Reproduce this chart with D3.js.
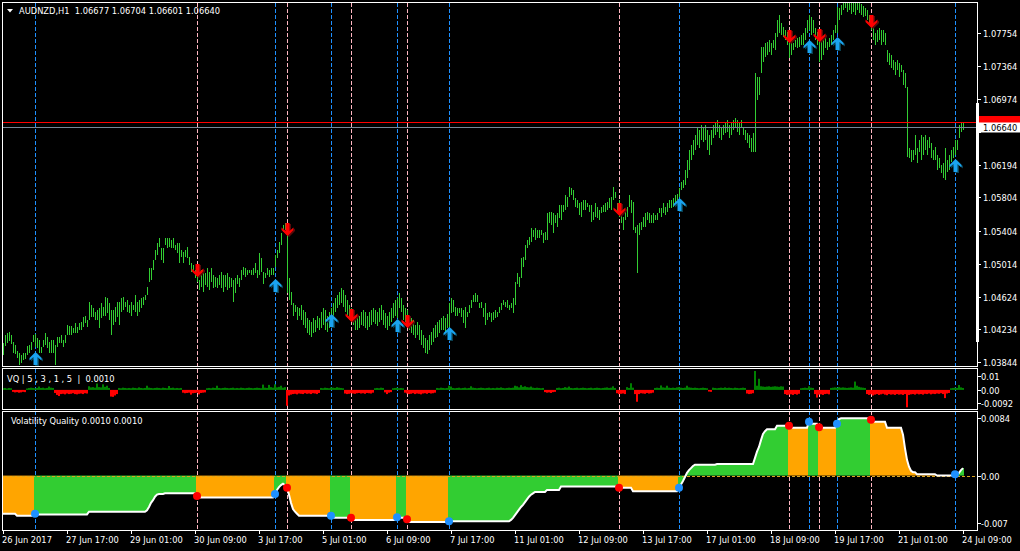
<!DOCTYPE html>
<html><head><meta charset="utf-8">
<script src="https://d3js.org/d3.v7.min.js"></script>
<style>
html,body{margin:0;padding:0;background:#000;}
svg{display:block;}
text{font-family:"DejaVu Sans",sans-serif;font-size:8.3px;fill:#fff;white-space:pre;}
</style></head><body>
<svg id="c" width="1020" height="551"></svg>
<script>
// ---------------- DATA ----------------
const chartTitle = "AUDNZD,H1  1.06677 1.06704 1.06601 1.06640";
const histTitle = "VQ | 5 , 3 , 1 , 5  |  0.0010";
const lineTitle = "Volatility Quality 0.0010 0.0010";
const firstBarTime = "2017-06-26 09:00";

const barHigh = [
1.0407,1.0417,1.0419,1.0420,1.0417,1.0408,1.0405,1.0398,1.0395,1.0393,1.0396,1.0395,1.0404,1.0405,1.0408,
1.0417,1.0418,1.0413,1.0411,1.0402,1.0411,1.0419,1.0414,1.0408,1.0411,1.0411,1.0405,1.0414,1.0415,1.0417,1.0411,1.0417,1.0429,1.0427,1.0427,1.0425,1.0431,1.0426,1.0431,
1.0432,1.0438,1.0440,1.0435,1.0456,1.0452,1.0449,1.0444,1.0446,1.0449,1.0455,1.0450,1.0462,1.0461,1.0455,1.0446,1.0446,1.0450,1.0456,1.0456,1.0461,1.0462,1.0456,1.0458,
1.0452,1.0456,1.0452,1.0464,1.0456,1.0458,1.0461,1.0462,1.0464,1.0474,1.0496,1.0496,1.0506,1.0518,1.0526,1.0532,1.0520,1.0520,1.0532,1.0532,1.0532,1.0530,1.0532,1.0524,
1.0526,1.0526,1.0518,1.0515,1.0518,1.0521,1.0509,1.0503,1.0500,1.0494,1.0496,1.0482,1.0494,1.0490,1.0490,1.0496,1.0492,1.0496,1.0488,1.0486,1.0484,1.0488,1.0492,1.0488,
1.0488,1.0490,1.0486,1.0484,1.0482,1.0484,1.0488,1.0484,1.0494,1.0498,1.0496,1.0494,1.0494,1.0494,1.0496,1.0503,1.0494,1.0514,1.0508,1.0492,1.0490,1.0496,1.0494,1.0496,
1.0496,1.0512,1.0518,1.0527,1.0538,1.0548,1.0550,1.0539,1.0484,1.0468,1.0455,1.0452,1.0450,1.0449,1.0452,1.0446,1.0444,1.0437,1.0435,1.0432,1.0437,1.0435,1.0440,1.0437,
1.0444,1.0449,1.0446,1.0440,1.0444,1.0449,1.0455,1.0461,1.0464,1.0468,1.0473,1.0470,1.0464,1.0458,1.0452,1.0449,1.0444,1.0440,1.0437,1.0440,1.0444,1.0446,1.0444,1.0440,
1.0444,1.0446,1.0449,1.0446,1.0444,1.0449,1.0452,1.0446,1.0443,1.0440,1.0444,1.0449,1.0455,1.0458,1.0461,1.0467,1.0461,1.0452,1.0449,1.0446,1.0440,1.0437,1.0435,1.0429,
1.0432,1.0429,1.0423,1.0417,1.0413,1.0411,1.0417,1.0420,1.0425,1.0429,1.0432,1.0435,1.0437,1.0439,1.0437,1.0442,1.0455,1.0461,1.0458,1.0450,1.0449,1.0449,1.0449,1.0446,
1.0450,1.0444,1.0452,1.0458,1.0464,1.0467,1.0464,1.0455,1.0456,1.0449,1.0455,1.0443,1.0444,1.0443,1.0444,1.0446,1.0444,1.0450,1.0455,1.0458,1.0456,1.0458,1.0452,1.0455,
1.0461,1.0480,1.0490,1.0486,1.0508,1.0509,1.0524,1.0530,1.0533,1.0544,1.0542,1.0544,1.0542,1.0542,1.0542,1.0538,1.0539,1.0562,1.0563,1.0563,1.0562,1.0559,1.0562,1.0571,
1.0571,1.0571,1.0583,1.0581,1.0593,1.0592,1.0589,1.0580,1.0577,1.0574,1.0575,1.0577,1.0577,1.0574,1.0571,1.0571,1.0563,1.0574,1.0569,1.0565,1.0569,1.0571,1.0574,1.0575,
1.0580,1.0581,1.0593,1.0587,1.0574,1.0577,1.0565,1.0557,1.0565,1.0569,1.0583,1.0577,1.0575,1.0545,1.0548,1.0550,1.0551,1.0557,1.0562,1.0563,1.0562,1.0559,1.0562,1.0559,
1.0562,1.0568,1.0568,1.0574,1.0569,1.0574,1.0577,1.0577,1.0580,1.0583,1.0585,1.0592,1.0599,1.0601,1.0613,1.0625,1.0637,1.0643,1.0649,1.0654,1.0663,1.0660,1.0666,1.0664,
1.0666,1.0660,1.0654,1.0660,1.0666,1.0670,1.0672,1.0666,1.0663,1.0666,1.0670,1.0672,1.0666,1.0670,1.0672,1.0675,1.0672,1.0670,1.0672,1.0663,1.0660,1.0657,1.0654,1.0651,
1.0657,1.0728,1.0723,1.0723,1.0759,1.0759,1.0764,1.0765,1.0767,1.0764,1.0767,1.0776,1.0791,1.0797,1.0788,1.0783,1.0779,1.0777,1.0771,1.0767,1.0764,1.0767,1.0770,1.0771,
1.0773,1.0776,1.0782,1.0791,1.0797,1.0795,1.0791,1.0782,1.0777,1.0770,1.0773,1.0767,1.0771,1.0765,1.0770,1.0773,1.0779,1.0785,1.0807,1.0805,1.0809,1.0811,1.0815,1.0813,
1.0814,1.0811,1.0815,1.0813,1.0816,1.0811,1.0810,1.0808,1.0805,1.0803,1.0797,1.0791,1.0785,1.0776,1.0779,1.0782,1.0779,1.0779,1.0776,1.0756,1.0752,1.0750,1.0744,1.0741,
1.0744,1.0740,1.0738,1.0732,1.0728,1.0712,1.0639,1.0637,1.0637,1.0654,1.0639,1.0649,1.0654,1.0652,1.0654,1.0649,1.0652,1.0645,1.0637,1.0640,1.0631,1.0627,1.0619,1.0621,
1.0639,1.0625,1.0631,1.0637,1.0640,1.0649,1.0649,1.0666,1.0669,1.06704
];
const barLow = [
1.0393,1.0404,1.0407,1.0410,1.0406,1.0396,1.0394,1.0389,1.0381,1.0383,1.0387,1.0388,1.0393,1.0395,1.0399,
1.0408,1.0402,1.0401,1.0396,1.0395,1.0402,1.0405,1.0401,1.0396,1.0396,1.0395,1.0381,1.0402,1.0407,1.0407,1.0402,1.0407,1.0417,1.0417,1.0417,1.0419,1.0419,1.0419,1.0423,
1.0423,1.0426,1.0431,1.0426,1.0435,1.0438,1.0438,1.0435,1.0435,1.0425,1.0437,1.0440,1.0440,1.0443,1.0435,1.0417,1.0429,1.0432,1.0438,1.0429,1.0444,1.0446,1.0450,1.0444,
1.0443,1.0440,1.0446,1.0444,1.0440,1.0444,1.0449,1.0452,1.0458,1.0464,1.0480,1.0482,1.0494,1.0506,1.0512,1.0521,1.0506,1.0502,1.0524,1.0520,1.0521,1.0520,1.0520,1.0518,
1.0514,1.0503,1.0509,1.0502,1.0509,1.0508,1.0500,1.0492,1.0494,1.0484,1.0480,1.0470,1.0474,1.0468,1.0476,1.0474,1.0470,1.0480,1.0473,1.0474,1.0473,1.0476,1.0473,1.0468,
1.0474,1.0470,1.0473,1.0474,1.0456,1.0467,1.0478,1.0474,1.0482,1.0488,1.0486,1.0488,1.0490,1.0488,1.0488,1.0490,1.0484,1.0488,1.0492,1.0478,1.0484,1.0488,1.0486,1.0488,
1.0488,1.0498,1.0508,1.0514,1.0524,1.0539,1.0542,1.0467,1.0458,1.0452,1.0440,1.0444,1.0435,1.0440,1.0435,1.0429,1.0425,1.0419,1.0417,1.0414,1.0419,1.0420,1.0425,1.0423,
1.0425,1.0429,1.0423,1.0420,1.0425,1.0432,1.0437,1.0444,1.0449,1.0452,1.0455,1.0450,1.0444,1.0437,1.0435,1.0437,1.0429,1.0423,1.0423,1.0425,1.0429,1.0427,1.0425,1.0423,
1.0426,1.0429,1.0432,1.0430,1.0427,1.0432,1.0435,1.0429,1.0425,1.0423,1.0427,1.0432,1.0437,1.0440,1.0437,1.0449,1.0444,1.0435,1.0432,1.0429,1.0423,1.0419,1.0417,1.0413,
1.0417,1.0411,1.0405,1.0401,1.0396,1.0394,1.0399,1.0405,1.0408,1.0413,1.0415,1.0419,1.0423,1.0423,1.0420,1.0425,1.0426,1.0443,1.0444,1.0440,1.0440,1.0443,1.0438,1.0431,
1.0425,1.0438,1.0443,1.0449,1.0456,1.0456,1.0456,1.0449,1.0449,1.0438,1.0429,1.0435,1.0438,1.0432,1.0435,1.0437,1.0438,1.0443,1.0446,1.0452,1.0450,1.0449,1.0446,1.0449,
1.0443,1.0452,1.0478,1.0474,1.0484,1.0498,1.0506,1.0520,1.0524,1.0527,1.0533,1.0530,1.0532,1.0532,1.0536,1.0526,1.0530,1.0530,1.0550,1.0548,1.0538,1.0550,1.0545,1.0556,
1.0553,1.0563,1.0565,1.0569,1.0581,1.0583,1.0577,1.0569,1.0568,1.0559,1.0557,1.0565,1.0565,1.0569,1.0563,1.0551,1.0553,1.0557,1.0556,1.0553,1.0562,1.0563,1.0563,1.0565,
1.0568,1.0565,1.0577,1.0580,1.0563,1.0557,1.0550,1.0542,1.0553,1.0557,1.0569,1.0562,1.0542,1.0538,1.0490,1.0536,1.0542,1.0545,1.0545,1.0553,1.0550,1.0550,1.0550,1.0553,
1.0553,1.0562,1.0557,1.0562,1.0559,1.0563,1.0568,1.0568,1.0569,1.0574,1.0577,1.0581,1.0589,1.0592,1.0595,1.0603,1.0613,1.0625,1.0631,1.0637,1.0643,1.0639,1.0649,1.0646,
1.0649,1.0637,1.0631,1.0643,1.0651,1.0654,1.0658,1.0651,1.0649,1.0654,1.0657,1.0658,1.0651,1.0654,1.0660,1.0663,1.0658,1.0654,1.0663,1.0654,1.0649,1.0645,1.0639,1.0634,
1.0634,1.0634,1.0696,1.0702,1.0728,1.0741,1.0747,1.0750,1.0753,1.0750,1.0758,1.0756,1.0771,1.0776,1.0773,1.0771,1.0767,1.0761,1.0746,1.0750,1.0756,1.0759,1.0758,1.0759,
1.0761,1.0761,1.0767,1.0776,1.0779,1.0773,1.0776,1.0767,1.0761,1.0741,1.0744,1.0750,1.0758,1.0756,1.0759,1.0761,1.0767,1.0776,1.0776,1.0791,1.0797,1.0803,1.0805,1.0801,
1.0803,1.0798,1.0801,1.0797,1.0803,1.0800,1.0797,1.0795,1.0796,1.0791,1.0785,1.0779,1.0767,1.0761,1.0765,1.0767,1.0761,1.0765,1.0761,1.0741,1.0738,1.0734,1.0732,1.0726,
1.0732,1.0723,1.0729,1.0714,1.0710,1.0628,1.0627,1.0622,1.0625,1.0631,1.0621,1.0634,1.0625,1.0631,1.0637,1.0631,1.0639,1.0627,1.0625,1.0625,1.0613,1.0615,1.0609,1.0603,
1.0601,1.0610,1.0613,1.0622,1.0627,1.0631,1.0637,1.0651,1.0658,1.06601
];
const vqHistogram = [
0.0012,0.0014,0.0010,0.0014,0.0012,
-0.0014,-0.0018,-0.0016,-0.0020,-0.0018,-0.0014,-0.0016,
0.0010,0.0014,0.0016,0.0014,0.0012,0.0014,0.0024,0.0014,0.0016,0.0012,0.0014,0.0024,0.0016,0.0014,
-0.0022,-0.0036,-0.0044,-0.0030,-0.0028,-0.0032,-0.0026,-0.0030,-0.0028,-0.0024,-0.0030,-0.0032,-0.0028,-0.0026,-0.0030,-0.0024,-0.0026,
0.0026,0.0018,0.0020,0.0016,0.0046,0.0020,0.0018,0.0040,0.0022,0.0030,0.0014,
-0.0048,-0.0050,-0.0040,-0.0030,
0.0014,0.0012,0.0016,0.0014,0.0012,0.0014,0.0012,0.0016,0.0014,0.0012,0.0018,0.0014,0.0012,0.0014,0.0030,0.0016,0.0014,0.0012,0.0014,0.0016,0.0014,0.0012,0.0016,0.0014,0.0012,0.0028,0.0014,0.0016,0.0012,0.0014,0.0012,0.0014,
-0.0020,-0.0024,-0.0022,-0.0020,-0.0034,-0.0024,-0.0022,-0.0020,-0.0032,-0.0022,-0.0020,-0.0018,
0.0012,0.0014,0.0012,0.0016,0.0014,0.0030,0.0014,0.0012,0.0014,0.0016,0.0014,0.0012,0.0014,0.0016,0.0012,0.0014,0.0012,0.0016,0.0014,0.0012,
0.0014,0.0016,0.0014,0.0012,0.0014,0.0016,0.0014,0.0012,0.0038,0.0016,0.0014,0.0036,0.0020,0.0016,0.0040,0.0018,0.0022,0.0030,0.0016,0.0020,
-0.0114,
-0.0040,-0.0034,-0.0030,-0.0028,-0.0032,-0.0026,-0.0028,-0.0030,-0.0024,-0.0028,-0.0026,-0.0030,-0.0024,-0.0026,-0.0030,-0.0022,
0.0014,0.0012,0.0016,0.0014,0.0012,0.0018,0.0016,0.0014,0.0020,0.0016,0.0014,0.0012,
-0.0026,-0.0030,-0.0028,-0.0024,-0.0026,-0.0028,-0.0024,-0.0022,-0.0026,-0.0024,-0.0028,-0.0022,-0.0024,-0.0026,-0.0020,
0.0012,0.0014,0.0012,0.0016,0.0014,
-0.0018,-0.0030,-0.0020,-0.0016,
0.0012,0.0014,0.0016,0.0012,0.0014,0.0012,
-0.0020,-0.0026,-0.0030,-0.0028,-0.0024,-0.0030,-0.0026,-0.0028,-0.0032,-0.0026,-0.0024,-0.0028,-0.0022,-0.0026,-0.0024,-0.0020,
0.0014,0.0012,0.0016,0.0014,0.0012,0.0014,0.0030,0.0024,0.0014,0.0012,0.0014,0.0016,0.0012,0.0014,0.0016,0.0012,0.0014,0.0026,0.0016,0.0014,
0.0012,0.0014,0.0016,0.0014,0.0012,0.0014,0.0016,0.0012,0.0014,0.0012,0.0016,0.0014,0.0018,0.0014,0.0012,0.0014,0.0016,0.0014,
0.0016,0.0030,0.0026,0.0018,0.0034,0.0022,0.0026,0.0020,0.0018,0.0024,0.0016,0.0014,0.0016,0.0014,0.0012,0.0014,
-0.0016,-0.0020,-0.0018,-0.0022,-0.0016,-0.0014,
0.0014,0.0016,0.0012,0.0014,0.0020,0.0016,0.0024,0.0014,0.0012,0.0014,0.0016,0.0012,0.0014,0.0016,0.0014,
0.0012,0.0014,0.0016,0.0012,0.0014,0.0016,0.0014,0.0012,0.0014,0.0016,0.0018,0.0014,0.0016,0.0026,0.0014,
-0.0024,-0.0030,-0.0028,-0.0026,-0.0030,
0.0020,0.0014,0.0048,0.0016,
-0.0030,-0.0085,-0.0030,-0.0024,-0.0026,-0.0028,-0.0022,-0.0026,-0.0024,-0.0020,
0.0014,0.0016,0.0014,0.0032,0.0018,0.0016,0.0030,0.0016,0.0014,0.0016,0.0014,0.0018,0.0020,0.0016,0.0014,0.0016,0.0030,0.0018,0.0016,0.0014,0.0016,0.0014,0.0012,
0.0014,0.0016,0.0014,0.0012,-0.0012,-0.0014,0.0016,0.0014,0.0012,0.0014,0.0016,0.0014,0.0018,0.0014,0.0016,0.0014,0.0012,0.0016,0.0014,0.0012,0.0014,0.0016,0.0014,
-0.0026,-0.0030,-0.0028,-0.0024,
0.0136,0.0030,0.0080,
0.0026,0.0024,0.0022,0.0024,0.0026,0.0022,0.0024,0.0026,0.0024,0.0022,0.0026,0.0024,
-0.0030,-0.0036,-0.0034,-0.0032,-0.0036,-0.0030,-0.0034,-0.0028,
0.0012,0.0014,0.0016,0.0014,0.0026,0.0016,0.0014,
-0.0030,-0.0055,-0.0034,-0.0032,-0.0036,-0.0030,-0.0028,-0.0032,
0.0014,0.0016,0.0018,0.0016,0.0020,0.0016,0.0018,0.0016,0.0014,0.0016,0.0018,0.0016,0.0060,0.0030,0.0022,0.0018,0.0016,0.0014,
-0.0030,-0.0036,-0.0032,-0.0040,-0.0034,-0.0030,-0.0036,-0.0032,-0.0028,-0.0034,-0.0038,-0.0030,-0.0034,-0.0032,-0.0036,-0.0030,-0.0034,-0.0032,-0.0036,-0.0030,
-0.0125,-0.0036,-0.0032,-0.0030,-0.0034,-0.0028,-0.0032,-0.0030,-0.0034,-0.0028,-0.0030,-0.0026,-0.0032,-0.0028,-0.0030,-0.0026,-0.0028,-0.0024,-0.0030,-0.0059,-0.0026,-0.0022,
0.0012,0.0014,0.0016,0.0014,0.0035,0.0018,0.0014
];
const vqLine = [
-0.0056,-0.0056,-0.0056,-0.0056,-0.0056,-0.0056,-0.0056,
-0.0059,-0.0059,-0.0059,-0.0059,-0.0059,-0.0059,-0.0059,-0.0059,-0.0059,
-0.0056,
-0.0057,-0.0057,-0.0057,-0.0057,-0.0057,-0.0057,-0.0057,-0.0057,-0.0057,-0.0057,-0.0057,-0.0057,-0.0057,-0.0057,-0.0057,-0.0057,-0.0057,-0.0057,-0.0057,-0.0057,-0.0057,-0.0057,-0.0057,-0.0057,-0.0057,-0.0057,
-0.0053,-0.0053,-0.0053,-0.0053,-0.0053,-0.0053,-0.0053,-0.0053,-0.0053,-0.0053,-0.0053,-0.0053,-0.0053,-0.0053,-0.0053,-0.0053,-0.0053,-0.0053,-0.0053,-0.0053,-0.0053,-0.0053,-0.0053,-0.0053,-0.0053,-0.0053,-0.0053,-0.0053,-0.0053,
-0.0051,-0.0046,-0.0040,-0.0036,-0.0031,-0.0028,-0.0027,-0.0027,-0.0027,-0.0026,
-0.0026,-0.0026,-0.0026,-0.0026,-0.0026,-0.0026,-0.0026,-0.0026,-0.0026,-0.0026,-0.0026,-0.0026,-0.0026,-0.0026,-0.0026,
-0.0030,
-0.0032,-0.0032,-0.0032,-0.0032,-0.0032,-0.0032,-0.0032,-0.0032,-0.0032,-0.0032,-0.0032,-0.0032,-0.0032,-0.0032,-0.0032,-0.0032,-0.0032,-0.0032,-0.0032,-0.0032,
-0.0032,-0.0032,-0.0032,-0.0032,-0.0032,-0.0032,-0.0032,-0.0032,-0.0032,-0.0032,-0.0032,-0.0032,-0.0032,-0.0032,-0.0032,-0.0032,-0.0032,-0.0032,
-0.0027,-0.0021,-0.0017,-0.0014,-0.0012,-0.0014,-0.0018,-0.0028,-0.0040,-0.0049,-0.0053,-0.0056,
-0.0059,-0.0059,-0.0059,-0.0059,-0.0059,-0.0059,-0.0059,-0.0059,-0.0059,-0.0059,-0.0059,-0.0059,-0.0059,-0.0059,-0.0059,-0.0059,-0.0059,
-0.0062,-0.0062,-0.0062,-0.0062,-0.0062,-0.0062,-0.0062,-0.0062,-0.0062,-0.0062,
-0.0065,-0.0065,-0.0065,-0.0065,-0.0065,-0.0065,-0.0065,-0.0065,-0.0065,-0.0065,-0.0065,-0.0065,-0.0065,-0.0065,-0.0065,-0.0065,-0.0065,-0.0065,-0.0065,-0.0065,-0.0065,-0.0065,
-0.0061,
-0.0062,-0.0062,-0.0062,-0.0062,
-0.0064,
-0.0068,-0.0068,-0.0068,-0.0068,-0.0068,-0.0068,-0.0068,-0.0068,-0.0068,-0.0068,-0.0068,-0.0068,-0.0068,-0.0068,-0.0068,-0.0068,-0.0068,-0.0068,-0.0068,-0.0068,
-0.0067,-0.0067,-0.0067,-0.0067,-0.0067,-0.0067,-0.0067,-0.0067,-0.0067,-0.0067,-0.0067,-0.0067,-0.0067,-0.0067,-0.0067,-0.0067,-0.0067,-0.0067,-0.0067,-0.0067,
-0.0067,-0.0067,-0.0067,-0.0067,-0.0067,-0.0067,-0.0067,-0.0067,-0.0067,-0.0067,-0.0067,
-0.0065,-0.0062,-0.0058,-0.0054,-0.0050,-0.0046,-0.0043,-0.0039,-0.0035,-0.0031,-0.0028,-0.0026,
-0.0024,-0.0024,-0.0024,-0.0024,-0.0024,-0.0024,
-0.0021,-0.0021,-0.0021,-0.0021,-0.0021,-0.0021,-0.0021,
-0.0016,-0.0016,-0.0016,-0.0016,-0.0016,-0.0016,-0.0016,-0.0016,-0.0016,-0.0016,-0.0016,-0.0016,-0.0016,-0.0016,-0.0016,
-0.0016,-0.0016,-0.0016,-0.0016,-0.0016,-0.0016,-0.0016,-0.0016,-0.0016,-0.0016,-0.0016,-0.0016,-0.0016,-0.0016,
-0.0018,-0.0018,-0.0018,-0.0018,-0.0018,-0.0018,-0.0018,
-0.0023,-0.0023,-0.0023,-0.0023,-0.0023,-0.0023,-0.0023,-0.0023,-0.0023,-0.0023,-0.0023,-0.0023,-0.0023,-0.0023,-0.0023,-0.0023,-0.0023,-0.0023,-0.0023,-0.0023,-0.0023,-0.0023,-0.0023,
-0.0018,-0.0013,-0.0008,-0.0002,0.0004,0.0008,0.0011,0.0014,0.0016,
0.0016,0.0016,0.0016,0.0016,0.0016,0.0016,0.0016,0.0016,0.0016,0.0016,
0.0017,0.0017,0.0017,0.0017,0.0017,0.0017,0.0017,0.0017,0.0017,0.0017,0.0017,0.0017,0.0017,0.0017,0.0017,0.0017,0.0017,0.0017,0.0017,
0.0026,0.0035,0.0042,0.0052,0.0061,0.0065,
0.0068,0.0068,0.0068,0.0068,0.0068,
0.0073,0.0073,0.0073,0.0073,0.0073,0.0073,0.0073,
0.0070,0.0070,0.0070,0.0070,0.0070,0.0070,0.0070,0.0070,0.0070,
0.0079,
0.0076,0.0076,0.0076,0.0076,
0.0071,
0.0070,0.0070,0.0070,0.0070,0.0070,0.0070,0.0070,0.0070,
0.0076,
0.0083,
0.0084,0.0084,0.0084,0.0084,0.0084,0.0084,0.0084,0.0084,0.0084,0.0084,0.0084,0.0084,0.0084,0.0084,0.0084,
0.0082,
0.0079,0.0079,0.0079,0.0079,0.0079,0.0079,0.0079,
0.0070,0.0070,0.0070,0.0070,0.0070,0.0070,0.0070,0.0070,
0.0060,0.0040,0.0023,0.0013,0.0007,0.0005,0.0005,
0.0002,0.0002,0.0002,0.0002,0.0002,0.0002,0.0002,0.0002,0.0002,0.0002,
0.0000,0.0000,0.0000,0.0000,0.0000,0.0000,0.0000,0.0000,0.0000,
0.0002,0.0001,0.0004,0.0008,0.0011
];
const upSignalTimes = ["2017-06-27 01:00","2017-07-04 01:00","2017-07-05 05:00","2017-07-06 14:00","2017-07-07 16:00","2017-07-14 11:00","2017-07-19 04:00","2017-07-19 18:00","2017-07-24 05:00"];
const upArrowPrices = [1.03965,1.04833,1.04417,1.04357,1.04262,1.05796,1.07674,1.07710,1.06259];
const downSignalTimes = ["2017-06-30 10:00","2017-07-04 07:00","2017-07-05 15:00","2017-07-06 19:00","2017-07-13 05:00","2017-07-18 18:00","2017-07-19 09:00","2017-07-20 11:00"];
const downArrowPrices = [1.04856,1.05344,1.04321,1.04250,1.05582,1.07639,1.07651,1.07817];
const priceTicks = [1.07754,1.07364,1.06974,1.06584,1.06194,1.05804,1.05404,1.05014,1.04624,1.04234,1.03844];
const histTicks = [0.01,0.00,-0.0092];
const histTickLabels = ["0.01","0.00","-0.0092"];
const lineTicks = [0.0084,0.00,-0.007];
const lineTickLabels = ["0.0084","0.00","-0.007"];
const timeTickTimes = ["2017-06-26 09:00","2017-06-27 17:00","2017-06-29 01:00","2017-06-30 09:00","2017-07-03 17:00","2017-07-05 01:00","2017-07-06 09:00","2017-07-07 17:00","2017-07-11 01:00","2017-07-12 09:00","2017-07-13 17:00","2017-07-17 01:00","2017-07-18 09:00","2017-07-19 17:00","2017-07-21 01:00","2017-07-24 09:00"];
const timeTickLabels = ["26 Jun 2017","27 Jun 17:00","29 Jun 01:00","30 Jun 09:00","3 Jul 17:00","5 Jul 01:00","6 Jul 09:00","7 Jul 17:00","11 Jul 01:00","12 Jul 09:00","13 Jul 17:00","17 Jul 01:00","18 Jul 09:00","19 Jul 17:00","21 Jul 01:00","24 Jul 09:00"];
const bidPrice = 1.06640;
const askPrice = 1.06696;

// ---------------- BUILD ----------------
const N = barHigh.length;

// bar times (H1, skipping weekends)
const pad = n => String(n).padStart(2,"0");
const fmt = d => `${d.getUTCFullYear()}-${pad(d.getUTCMonth()+1)}-${pad(d.getUTCDate())} ${pad(d.getUTCHours())}:00`;
const times = [];
{
  const [dp, tp] = firstBarTime.split(" ");
  const [Y,M,D] = dp.split("-").map(Number);
  let t = Date.UTC(Y, M-1, D, +tp.split(":")[0]);
  while (times.length < N) {
    const d = new Date(t);
    const wd = d.getUTCDay();
    if (wd !== 0 && wd !== 6) times.push(fmt(d));
    t += 3600e3;
  }
}
const idxOf = s => times.indexOf(s);

// layout
const L = 2, R = 977;
const main = {top: 2, bottom: 366};
const hp = {top: 368, bottom: 409};
const lp = {top: 411, bottom: 530};

const x = d3.scaleLinear().domain([0, N - 1]).range([3, 3 + 2 * (N - 1)]);
const yMain = d3.scaleLinear().domain([1.03800, 1.08126]).range([main.bottom, main.top]);
const yHist = d3.scaleLinear().domain([-0.01374, 0.01576]).range([hp.bottom, hp.top]);
const yLine = d3.scaleLinear().domain([-0.00798, 0.00947]).range([lp.bottom, lp.top]);

const svg = d3.select("#c");
svg.append("rect").attr("width",1020).attr("height",551).attr("fill","#000");

const defs = svg.append("defs");
function clip(id, p) {
  defs.append("clipPath").attr("id", id).append("rect")
    .attr("x", L + 1).attr("y", p.top + 1).attr("width", R - L - 1).attr("height", p.bottom - p.top - 1);
}
clip("cm", main); clip("ch", hp); clip("cl", lp);

// signal state per bar
const upIdx = upSignalTimes.map(idxOf);
const dnIdx = downSignalTimes.map(idxOf);
const state = [];
{
  let s = -1;
  for (let i = 0; i < N; i++) {
    if (upIdx.includes(i)) s = 1;
    if (dnIdx.includes(i)) s = -1;
    state.push(s);
  }
}

// vertical dashed signal lines
const vg = svg.append("g");
upIdx.forEach(i => vg.append("line").attr("x1", x(i)+0.5).attr("x2", x(i)+0.5).attr("y1", 3).attr("y2", 530)
  .attr("stroke", "#1E90FF").attr("stroke-width", 1).attr("stroke-dasharray", "4,2"));
dnIdx.forEach(i => vg.append("line").attr("x1", x(i)+0.5).attr("x2", x(i)+0.5).attr("y1", 3).attr("y2", 530)
  .attr("stroke", "#FFB6C1").attr("stroke-width", 1).attr("stroke-dasharray", "4,2"));

// main panel bars
const gm = svg.append("g").attr("clip-path", "url(#cm)");
gm.selectAll("line.bar").data(d3.range(N)).join("line")
  .attr("x1", i => x(i) + 0.5).attr("x2", i => x(i) + 0.5)
  .attr("y1", i => Math.round(yMain(barHigh[i])))
  .attr("y2", i => Math.max(Math.round(yMain(barLow[i])), Math.round(yMain(barHigh[i])) + 1))
  .attr("stroke", "#32CD32").attr("stroke-width", 1);

// bid / ask lines
gm.append("line").attr("x1", L).attr("x2", R).attr("y1", Math.round(yMain(bidPrice)) + 0.5).attr("y2", Math.round(yMain(bidPrice)) + 0.5)
  .attr("stroke", "#778899");
gm.append("line").attr("x1", L).attr("x2", R).attr("y1", Math.round(yMain(askPrice)) + 0.5).attr("y2", Math.round(yMain(askPrice)) + 0.5)
  .attr("stroke", "#FF0000");

// arrows
const upPath = "M0,0 L6,6 L6,8.5 L2,5 L2,13 L-2,13 L-2,5 L-6,8.5 L-6,6 Z";
const dnPath = "M0,0 L6,-6 L6,-8.5 L2,-5 L2,-13 L-2,-13 L-2,-5 L-6,-8.5 L-6,-6 Z";
upIdx.forEach((i, k) => {
  const cx = x(i) + 0.5, cy = Math.round(yMain(upArrowPrices[k]));
  gm.append("path").attr("d", upPath).attr("transform", `translate(${cx+1.5},${cy+1})`).attr("fill", "#0a4050");
  gm.append("path").attr("d", upPath).attr("transform", `translate(${cx},${cy})`).attr("fill", "#1AA3F0");
});
dnIdx.forEach((i, k) => {
  const cx = x(i) + 0.5, cy = Math.round(yMain(downArrowPrices[k]));
  gm.append("path").attr("d", dnPath).attr("transform", `translate(${cx+1.5},${cy+1})`).attr("fill", "#5a0a0a");
  gm.append("path").attr("d", dnPath).attr("transform", `translate(${cx},${cy})`).attr("fill", "#FF0000");
});

// histogram panel
const gh = svg.append("g").attr("clip-path", "url(#ch)");
gh.selectAll("rect").data(d3.range(N)).join("rect")
  .attr("x", i => x(i) - 1).attr("width", 2)
  .attr("y", i => Math.min(yHist(0), yHist(vqHistogram[i])))
  .attr("height", i => Math.max(1, Math.abs(yHist(vqHistogram[i]) - yHist(0))))
  .attr("fill", i => vqHistogram[i] >= 0 ? "#008000" : "#FF0000");

// volatility quality panel
const gl = svg.append("g").attr("clip-path", "url(#cl)");
gl.selectAll("rect").data(d3.range(N)).join("rect")
  .attr("x", i => x(i) - 1).attr("width", 2)
  .attr("y", i => Math.min(yLine(0), yLine(vqLine[i])))
  .attr("height", i => Math.abs(yLine(vqLine[i]) - yLine(0)))
  .attr("fill", i => state[i] > 0 ? "#32CD32" : "#FFA500");
gl.append("line").attr("x1", L).attr("x2", R).attr("y1", Math.round(yLine(0)) + 0.5).attr("y2", Math.round(yLine(0)) + 0.5)
  .attr("stroke", "#DAA520").attr("stroke-dasharray", "3,2");
gl.append("path").datum(d3.range(N))
  .attr("d", d3.line().x(i => x(i)).y(i => yLine(vqLine[i])))
  .attr("fill", "none").attr("stroke", "#fff").attr("stroke-width", 2);
upIdx.forEach(i => gl.append("circle").attr("cx", x(i)).attr("cy", yLine(vqLine[i])).attr("r", 4).attr("fill", "#1E90FF"));
dnIdx.forEach(i => gl.append("circle").attr("cx", x(i)).attr("cy", yLine(vqLine[i])).attr("r", 4).attr("fill", "#FF0000"));

// panel frames
[main, hp, lp].forEach(p => svg.append("rect").attr("x", L + 0.5).attr("y", p.top + 0.5)
  .attr("width", R - L).attr("height", p.bottom - p.top).attr("fill", "none").attr("stroke", "#fff"));

// right axes
const ax = svg.append("g");
const yBid = Math.round(yMain(bidPrice));
const yAsk = Math.round(yMain(askPrice));
priceTicks.forEach(v => {
  const y = Math.round(yMain(v));
  ax.append("line").attr("x1", R).attr("x2", R + 4).attr("y1", y + 0.5).attr("y2", y + 0.5).attr("stroke", "#fff");
  // the label that sits under the bid/ask boxes is hidden by them
  if (Math.abs(y - yBid) > 9 && Math.abs(y - yAsk) > 9)
    ax.append("text").attr("x", 983).attr("y", y + 3.5).text(v.toFixed(5));
});
histTicks.forEach((v, k) => {
  const y = Math.round(yHist(v));
  ax.append("line").attr("x1", R).attr("x2", R + 4).attr("y1", y + 0.5).attr("y2", y + 0.5).attr("stroke", "#fff");
  ax.append("text").attr("x", 981).attr("y", y + 3.5).text(histTickLabels[k]);
});
lineTicks.forEach((v, k) => {
  const y = Math.round(yLine(v));
  ax.append("line").attr("x1", R).attr("x2", R + 4).attr("y1", y + 0.5).attr("y2", y + 0.5).attr("stroke", "#fff");
  ax.append("text").attr("x", 981).attr("y", y + 3.5).text(lineTickLabels[k]);
});

// price label boxes (ask box mostly covered by the bid box)
ax.append("rect").attr("x", R + 1).attr("y", yAsk - 6).attr("width", 43).attr("height", 11).attr("fill", "#FF0000");
ax.append("rect").attr("x", R).attr("y", yBid - 4.5).attr("width", 44).attr("height", 10).attr("fill", "#fff");
ax.append("text").attr("x", 983).attr("y", yBid + 3.5).style("fill", "#000").text(bidPrice.toFixed(5));

// chart-shift marker on right border
svg.append("rect").attr("x", 976).attr("y", 103).attr("width", 3).attr("height", 239).attr("fill", "#fff");

// time axis
timeTickTimes.forEach((t, k) => {
  const i = idxOf(t);
  const xx = x(i);
  svg.append("line").attr("x1", xx + 0.5).attr("x2", xx + 0.5).attr("y1", lp.bottom).attr("y2", lp.bottom + 4).attr("stroke", "#fff");
  svg.append("text").attr("x", k === 0 ? 2 : xx - 1).attr("y", 543).text(timeTickLabels[k]);
});

// titles
svg.append("path").attr("d", "M7,9 L13,9 L10,12.5 Z").attr("fill", "#fff");
svg.append("text").attr("x", 19).attr("y", 14).text(chartTitle);
svg.append("text").attr("x", 7).attr("y", 381.5).text(histTitle);
svg.append("text").attr("x", 11).attr("y", 423.5).text(lineTitle);
</script>
</body></html>
